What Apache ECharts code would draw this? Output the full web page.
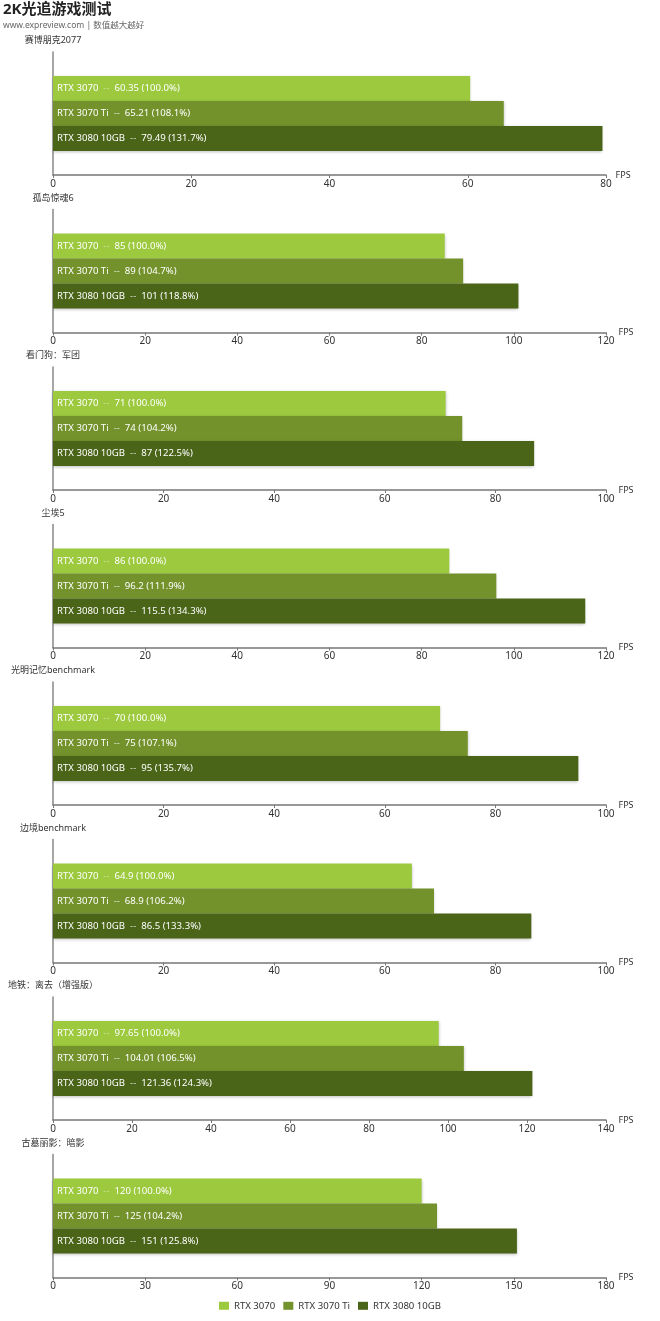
<!DOCTYPE html>
<html>
<head>
<meta charset="utf-8">
<script src="https://cdn.jsdelivr.net/npm/echarts@6/dist/echarts.min.js"></script>
<style>
html,body{margin:0;padding:0;background:#fff;}
#main{width:660px;height:1321px;}
</style>
</head>
<body>
<div id="main"></div>
<script>
const games = ['赛博朋克2077','孤岛惊魂6','看门狗：军团','尘埃5','光明记忆benchmark','边境benchmark','地铁：离去（增强版）','古墓丽影：暗影'];
const seriesNames = ['RTX 3070','RTX 3070 Ti','RTX 3080 10GB'];
const rtx3070 = [60.35, 85, 71, 86, 70, 64.9, 97.65, 120];
const rtx3070ti = [65.21, 89, 74, 96.2, 75, 68.9, 104.01, 125];
const rtx3080 = [79.49, 101, 87, 115.5, 95, 86.5, 121.36, 151];
const axisMax = [80, 120, 100, 120, 100, 100, 140, 180];
const axisInterval = [20, 20, 20, 20, 20, 20, 20, 30];

const colors = ['#9cc93e', '#73922b', '#4a6418'];
const FONT = '"Segoe UI","Noto Sans","Noto Sans CJK SC",sans-serif';
const values = [rtx3070, rtx3070ti, rtx3080];

const GRID_TOP0 = 52, STEP = 157.5, GRID_H = 123;

const titles = [{
  text: '2K光追游戏测试',
  subtext: 'www.expreview.com | 数值越大越好',
  left: 3, top: 2, padding: 0, itemGap: 4,
  textStyle: {fontSize: 15, fontWeight: 'bold', color: '#222', fontFamily: FONT},
  subtextStyle: {fontSize: 8.5, color: '#666', fontFamily: FONT}
}];
const grids = [], xAxes = [], yAxes = [], series = [];
games.forEach((g, i) => {
  const top = GRID_TOP0 + i * STEP;
  titles.push({
    text: g, left: 53, top: top - 16, textAlign: 'center', padding: 0,
    textStyle: {fontSize: 9, fontWeight: 'normal', color: '#333', fontFamily: FONT}
  });
  grids.push({left: 53, right: 54, top: top, height: GRID_H});
  xAxes.push({
    type: 'value', gridIndex: i, min: 0, max: axisMax[i], interval: axisInterval[i],
    name: 'FPS', nameLocation: 'end', nameGap: 5,
    nameTextStyle: {fontSize: 9, color: '#333', fontFamily: FONT, padding: [0,0,4,0]},
    axisLine: {show: true, lineStyle: {color: '#777', width: 1.5}},
    axisTick: {show: true, length: 3, lineStyle: {color: '#777'}},
    axisLabel: {fontSize: 10, color: '#333', margin: 4, fontFamily: FONT},
    splitLine: {show: false}
  });
  yAxes.push({
    type: 'category', gridIndex: i, data: [g], inverse: true,
    axisLine: {show: true, lineStyle: {color: '#888', width: 1.5}},
    axisTick: {show: false}, axisLabel: {show: false}, splitLine: {show: false}
  });
  seriesNames.forEach((s, k) => {
    series.push({
      type: 'bar', name: s, xAxisIndex: i, yAxisIndex: i,
      data: [values[k][i]], barWidth: 25, barGap: '0%',
      itemStyle: {color: colors[k], shadowColor: 'rgba(0,0,0,0.25)', shadowBlur: 3, shadowOffsetY: 1},
      label: {
        show: true, position: 'insideLeft', distance: 4,
        fontFamily: FONT,
        formatter: function (p) {
          const base = rtx3070[i];
          const pct = (p.value / base * 100).toFixed(1);
          return '{a|' + s + '}{d|  --  }{a|' + p.value + ' (' + pct + '%)}';
        },
        rich: {
          a: {color: '#fff', fontSize: 9.6, fontFamily: FONT},
          d: {color: k === 0 ? 'rgba(255,255,255,0.45)' : 'rgba(255,255,255,0.75)', fontSize: 9.6, fontFamily: FONT}
        }
      },
      silent: true, animation: false
    });
  });
});

const chart = echarts.init(document.getElementById('main'), null, {renderer: 'canvas'});
chart.setOption({
  animation: false,
  backgroundColor: '#fff',
  title: titles,
  grid: grids,
  xAxis: xAxes,
  yAxis: yAxes,
  legend: {
    data: seriesNames, left: 'center', top: 1296, itemWidth: 10, itemHeight: 8, itemGap: 8,
    icon: 'rect',
    textStyle: {fontSize: 9.6, color: '#333', fontFamily: FONT}
  },
  series: series
});
</script>
</body>
</html>
